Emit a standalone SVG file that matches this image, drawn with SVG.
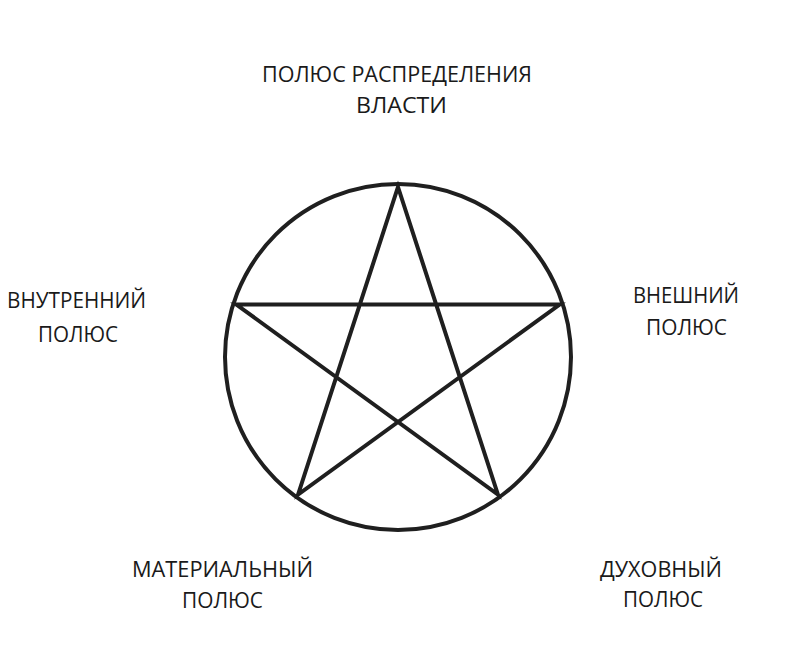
<svg xmlns="http://www.w3.org/2000/svg" width="787" height="666" viewBox="0 0 787 666">
  <style>
    .lbl { font-family: "Open Sans", "Noto Sans", "DejaVu Sans", sans-serif; font-size: 21px; fill: #1a1a1a; }
    .ln { fill: none; stroke: #1f1f1f; stroke-width: 4; stroke-linejoin: miter; stroke-linecap: round; }
  </style>
  <rect width="787" height="666" fill="#ffffff"/>
  <g id="pentacle">
    <circle class="ln" cx="398" cy="357" r="173"/>
    <polygon class="ln" points="398,187 497.9,494.5 236.3,304.5 559.7,304.5 298.1,494.5"/>
  </g>
  <g id="node-power">
    <text class="lbl" x="262" y="82" textLength="270" lengthAdjust="spacingAndGlyphs">ПОЛЮС РАСПРЕДЕЛЕНИЯ</text>
    <text class="lbl" x="356" y="113" textLength="91" lengthAdjust="spacingAndGlyphs">ВЛАСТИ</text>
  </g>
  <g id="node-inner">
    <text class="lbl" x="7" y="308" textLength="139" lengthAdjust="spacingAndGlyphs">ВНУТРЕННИЙ</text>
    <text class="lbl" x="38" y="342" textLength="80" lengthAdjust="spacingAndGlyphs">ПОЛЮС</text>
  </g>
  <g id="node-outer">
    <text class="lbl" x="633" y="303" textLength="106" lengthAdjust="spacingAndGlyphs">ВНЕШНИЙ</text>
    <text class="lbl" x="646" y="335" textLength="81" lengthAdjust="spacingAndGlyphs">ПОЛЮС</text>
  </g>
  <g id="node-material">
    <text class="lbl" x="132" y="577" textLength="181" lengthAdjust="spacingAndGlyphs">МАТЕРИАЛЬНЫЙ</text>
    <text class="lbl" x="182" y="608" textLength="81" lengthAdjust="spacingAndGlyphs">ПОЛЮС</text>
  </g>
  <g id="node-spiritual">
    <text class="lbl" x="600" y="577" textLength="122" lengthAdjust="spacingAndGlyphs">ДУХОВНЫЙ</text>
    <text class="lbl" x="623" y="607" textLength="80" lengthAdjust="spacingAndGlyphs">ПОЛЮС</text>
  </g>
  <g id="connectors"/>
</svg>
